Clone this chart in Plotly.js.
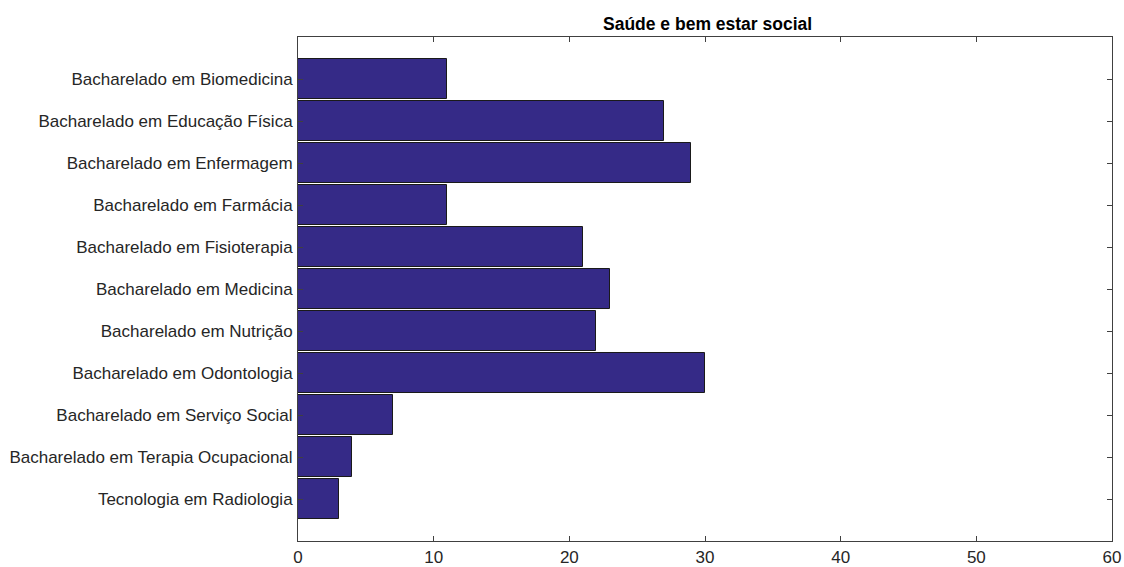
<!DOCTYPE html>
<html><head><meta charset="utf-8">
<script src="https://cdn.plot.ly/plotly-3.0.1.min.js"></script>
<style>html,body{margin:0;padding:0;background:#fff}</style>
</head><body><div id="chart" style="width:1124px;height:567px"></div>
<script>
const categories = ["Bacharelado em Biomedicina","Bacharelado em Educação Física","Bacharelado em Enfermagem","Bacharelado em Farmácia","Bacharelado em Fisioterapia","Bacharelado em Medicina","Bacharelado em Nutrição","Bacharelado em Odontologia","Bacharelado em Serviço Social","Bacharelado em Terapia Ocupacional","Tecnologia em Radiologia"];
const values = [11,27,29,11,21,23,22,30,7,4,3];
const xTicks = [0,10,20,30,40,50,60];
const positions = categories.map((c,i)=>i+1);

Plotly.newPlot('chart',[{
  type:'bar', orientation:'h', x:values, y:positions, width:0.97,
  marker:{color:'#352a87', line:{color:'#1a1a1a', width:1}},
  hoverinfo:'x+y'
}],{
  width:1124, height:567,
  margin:{l:298,r:12,t:37,b:26},
  paper_bgcolor:'#fff', plot_bgcolor:'#fff',
  font:{family:'Arial, Liberation Sans, sans-serif', size:17, color:'#262626'},
  title:{text:'<b>Saúde e bem estar social</b>', x:0.6295, xanchor:'center', y:0.958, yanchor:'middle', font:{size:17.5, color:'#000'}},
  xaxis:{range:[0,60], tickvals:xTicks, ticks:'inside', ticklen:5, tickcolor:'#404040', mirror:'ticks', showline:true, linecolor:'#404040', linewidth:1, showgrid:false, zeroline:false, automargin:false, tickfont:{size:17}, ticklabelstandoff:1},
  yaxis:{range:[12,0], tickvals:positions, ticktext:categories, ticks:'inside', ticklen:5, tickcolor:'#404040', mirror:'ticks', showline:true, linecolor:'#404040', linewidth:1, showgrid:false, zeroline:false, automargin:false, tickfont:{size:17}, ticklabelstandoff:1},
  bargap:0, showlegend:false
},{displayModeBar:false});
</script></body></html>
